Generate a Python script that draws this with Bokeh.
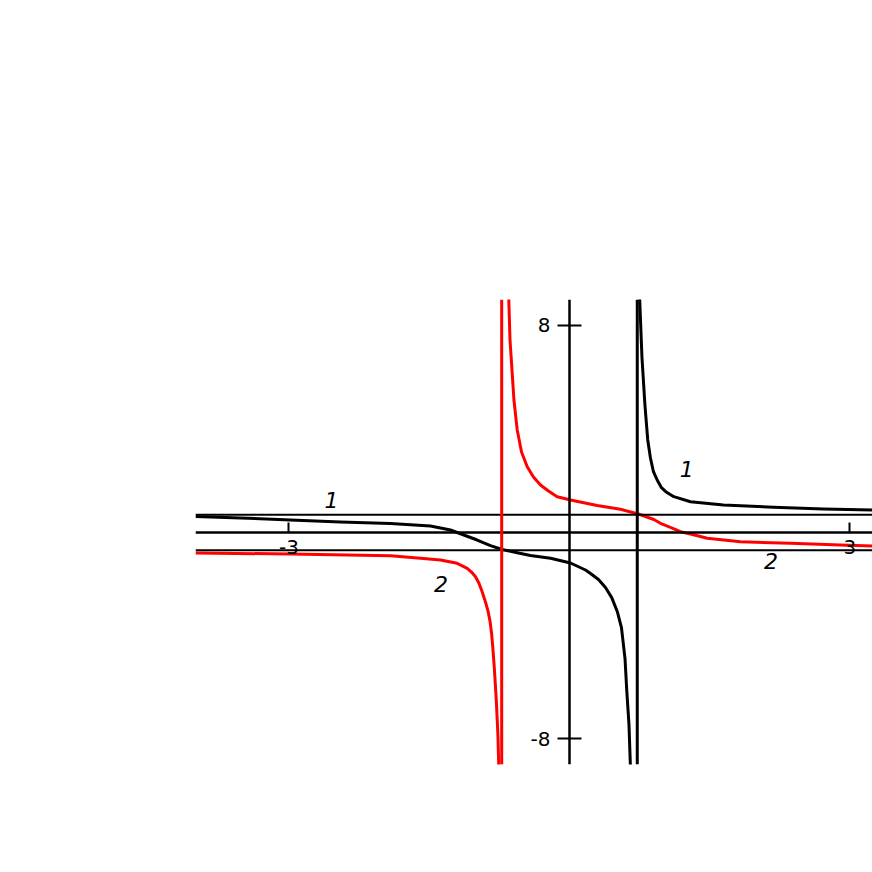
from bokeh.plotting import figure
from bokeh.models import LinearAxis, FixedTicker, Span, PrintfTickFormatter
from bokeh.core.properties import value
from bokeh.embed import file_html
from bokeh.resources import INLINE

# ---- data ----
# curve 1 (black), left branch
c1_left_x = [-4.000, -3.519, -2.984, -2.449, -1.914, -1.487, -1.273, -1.130, -0.987, -0.845,
             -0.720, -0.559, -0.417, -0.203, 0.011, 0.171, 0.225, 0.310, 0.385, 0.452, 0.513,
             0.556, 0.594, 0.613, 0.636, 0.652]
c1_left_y = [0.600, 0.542, 0.465, 0.387, 0.329, 0.232, 0.077, -0.116, -0.310, -0.530,
             -0.678, -0.801, -0.910, -1.018, -1.200, -1.471, -1.607, -1.840, -2.150, -2.540, -3.097,
             -3.700, -4.900, -6.156, -7.433, -9.100]
# curve 1 (black), right branch
c1_right_x = [0.750, 0.775, 0.807, 0.837, 0.866, 0.898, 0.938, 0.984, 1.030, 1.116, 1.294, 1.647,
              2.182, 2.717, 3.241]
c1_right_y = [9.100, 6.775, 4.917, 3.562, 2.865, 2.334, 2.013, 1.715, 1.560, 1.367, 1.173, 1.045,
              0.956, 0.890, 0.852]

# curve 2 (red), left branch
c2_left_x = [-4.000, -2.984, -1.914, -1.594, -1.380, -1.201, -1.094, -1.048, -1.005, -0.968,
             -0.934, -0.895, -0.872, -0.850, -0.834, -0.821, -0.805, -0.783, -0.766, -0.756]
c2_left_y = [-0.813, -0.852, -0.918, -1.018, -1.084, -1.212, -1.405, -1.549, -1.731, -1.986,
             -2.311, -2.750, -3.050, -3.450, -3.900, -4.430, -5.200, -6.500, -7.800, -9.100]
# curve 2 (red), right branch
c2_right_x = [-0.650, -0.636, -0.613, -0.594, -0.559, -0.513, -0.452, -0.385, -0.310, -0.225,
              -0.132, 0.011, 0.296, 0.545, 0.738, 0.902, 0.973, 1.080, 1.187, 1.294, 1.473,
              1.829, 2.364, 2.898, 3.241]
c2_right_y = [9.100, 7.433, 6.156, 5.110, 3.949, 3.097, 2.528, 2.129, 1.820, 1.587,
              1.367, 1.239, 1.026, 0.879, 0.697, 0.484, 0.337, 0.182, 0.012, -0.077, -0.244,
              -0.376, -0.437, -0.503, -0.542]

# asymptotes
v_asym_black = 0.725
v_asym_red = -0.725
h_asym = [0.67, -0.71]

# ticks
x_ticks = [-3, 3]
y_ticks = [-8, 8]

# curve labels
lab_text = ["1", "1", "2", "2"]
lab_x = [-2.545, 1.253, -1.374, 2.155]
lab_y = [1.239, 2.439, -2.013, -1.123]

# ---- figure ----
p = figure(frame_width=677, frame_height=465,
           x_range=(-4.0, 3.241), y_range=(-9.0, 9.0),
           x_axis_type=None, y_axis_type=None,
           min_border_left=195, min_border_right=0,
           min_border_top=299, min_border_bottom=50,
           output_backend="svg", toolbar_location=None)
p.outline_line_color = None
p.grid.visible = False
p.background_fill_color = "white"

font = "DejaVu Sans"

xaxis = LinearAxis(fixed_location=0, ticker=FixedTicker(ticks=x_ticks),
                   formatter=PrintfTickFormatter(format="%d"))
xaxis.major_tick_in = 10
xaxis.major_tick_out = 0
xaxis.minor_tick_in = 0
xaxis.minor_tick_out = 0
xaxis.axis_line_width = 2.5
xaxis.major_tick_line_width = 2
xaxis.major_label_standoff = 8
xaxis.major_label_text_font = font
xaxis.major_label_text_font_size = "20px"
xaxis.major_label_text_color = "black"
p.add_layout(xaxis, "below")

yaxis = LinearAxis(fixed_location=0, ticker=FixedTicker(ticks=y_ticks),
                   formatter=PrintfTickFormatter(format="%d"))
yaxis.major_tick_in = 12
yaxis.major_tick_out = 12
yaxis.minor_tick_in = 0
yaxis.minor_tick_out = 0
yaxis.axis_line_width = 2.5
yaxis.major_tick_line_width = 2
yaxis.major_label_standoff = 7
yaxis.major_label_text_font = font
yaxis.major_label_text_font_size = "20px"
yaxis.major_label_text_color = "black"
p.add_layout(yaxis, "left")

for h in h_asym:
    p.add_layout(Span(location=h, dimension="width", line_color="black", line_width=2))
p.add_layout(Span(location=v_asym_black, dimension="height", line_color="black", line_width=3))
p.add_layout(Span(location=v_asym_red, dimension="height", line_color="red", line_width=3))

p.line(c1_left_x, c1_left_y, line_color="black", line_width=3, line_join="round")
p.line(c1_right_x, c1_right_y, line_color="black", line_width=3, line_join="round")
p.line(c2_left_x, c2_left_y, line_color="red", line_width=3, line_join="round")
p.line(c2_right_x, c2_right_y, line_color="red", line_width=3, line_join="round")

p.text(x=lab_x, y=lab_y, text=lab_text, text_font=value(font), text_font_style="italic",
       text_font_size="22px", text_align="center", text_baseline="middle", text_color="black")

open("out.html", "w").write(file_html(p, INLINE))
